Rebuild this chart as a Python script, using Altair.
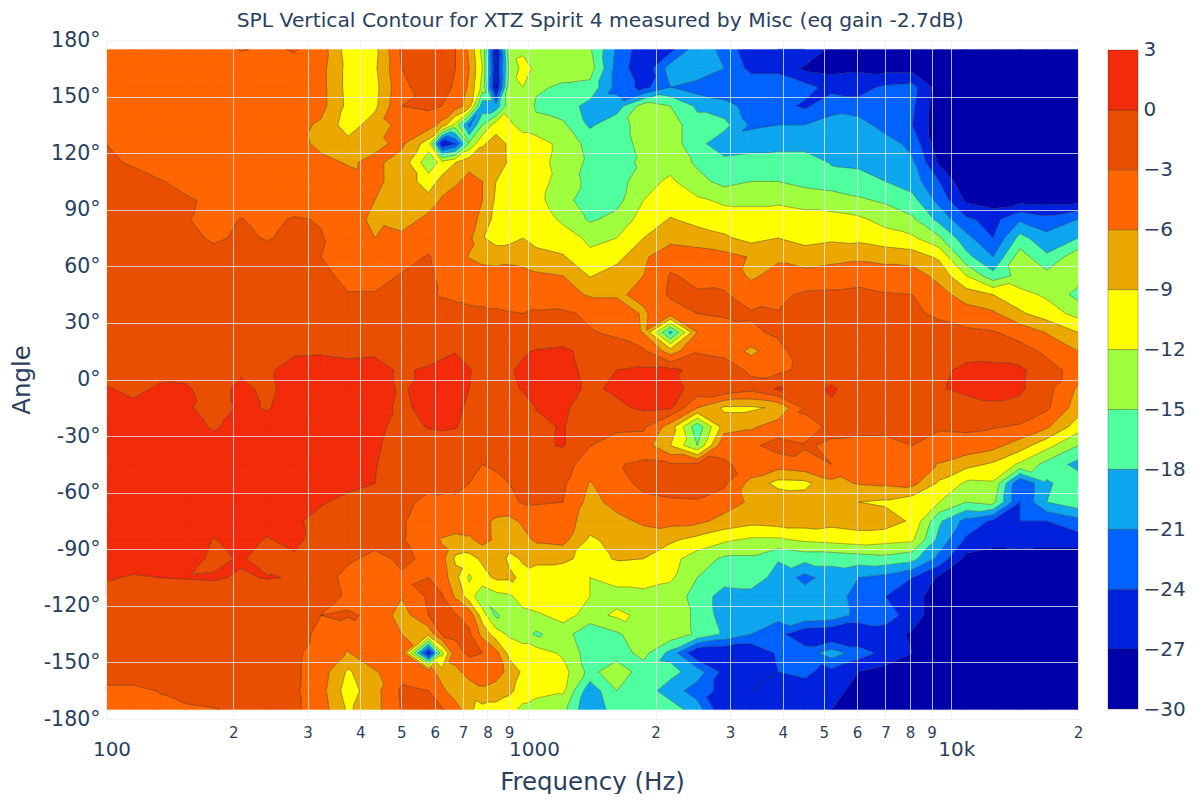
import math
import altair as alt
import pandas as pd

freq = [100,116,134,155,180,209,241,279,323,374,433,501,580,624,672,724,778,838,901,970,1043,
        1207,1398,1618,1873,2169,2511,2907,3366,3897,4512,5224,6048,7002,8107,9386,10867,12582,14567,16865,20000]
angles = list(range(175, -176, -10))

a175 = [-5,-5,-5,-5,-4.5,-2.8,-3.5,-2.8,-4.5,-10.5,-9.8,-2.5, -0.5,-1.5,-3,-6.5,-13,-28,-13,-12.5,-13, -13,-14.5,-21.5,-26,-25,-19,-22,-26,-24,-24,-28,-30,-30,-30,-30,-30,-30,-30,-30,-30]
a165 = [-5,-5,-5,-5,-5,-5,-5,-3.8,-5,-10,-9.5,-3, -1.5,-2,-3,-6,-12,-27,-14.5,-11,-12.5, -13.5,-13.5,-22,-26.5,-19.5,-18.5,-21,-25,-25,-27.5,-28,-27.5,-28,-28,-29,-30,-30,-30,-30,-30]
a155 = [-5,-5,-5,-5,-5,-5,-5,-4.5,-5,-10,-10,-3.5, -2,-2.5,-3.2,-6.5,-13,-28,-13,-12,-14.5, -15.5,-16,-22,-25,-21,-22.5,-23,-21.5,-21.5,-23,-25,-25,-23.5,-23,-28.5,-30,-30,-30,-30,-30]
a145 = [-5,-5,-5,-5,-5,-5,-5,-5,-5,-9.8,-9.7,-3, -2.5,-3,-4.5,-7.5,-20,-20,-13,-12.2,-15.5, -16.5,-19,-19.5,-13.5,-15,-18.5,-20,-22,-23,-24.5,-22,-23,-24,-23.5,-29,-30,-30,-30,-30,-30]
a135 = [-5,-5,-5,-5,-5,-5,-5,-5,-6.5,-10.5,-7.5,-5, -4.5,-7,-13,-22,-15,-10.5,-11.5,-13,-14, -14.5,-18.5,-16,-14,-13.5,-17,-17,-21.5,-21,-21,-20,-19.5,-22.5,-24,-29,-30,-30,-30,-30,-30]
a125 = [-3,-4,-4.5,-4.5,-4.5,-4.5,-4.5,-4.5,-7,-8,-6.5,-5.5, -10.5,-27,-24,-14.5,-9.5,-7.5,-9.5,-10.5,-10.5, -13,-16,-16.5,-14,-13.5,-17,-20,-19.5,-19.5,-19.5,-19,-19,-19.5,-22,-29,-30,-30,-30,-30,-30]
a115 = [-2.5,-3.3,-4.5,-4.5,-4.5,-4.5,-4.5,-4.5,-5,-6.3,-5.5,-7, -14,-11,-9,-7,-6.5,-7,-9.5,-10.5,-10.5, -13.5,-15.5,-16,-14.5,-13,-15.5,-17,-16.5,-16,-16,-18.3,-18.5,-19.5,-20.5,-27.5,-30,-30,-30,-30,-30]
a105 = [-1.5,-2,-2.8,-3.8,-4.5,-4.5,-4.5,-4.5,-4.5,-4.5,-5.5,-7, -10.5,-8,-6.5,-5,-6,-9,-10,-10.5,-11, -13,-16,-16.5,-13,-11.5,-14,-16,-15,-15,-16,-16.5,-17,-18,-19.5,-24,-29.5,-30,-30,-30,-30]
a95 = [-1.5,-2,-2.5,-2.7,-3.5,-4.5,-5,-5,-5,-5,-6,-7.5, -8,-5.5,-4.5,-4,-6,-9.5,-10.5,-10.5,-11.5, -13,-18,-16,-12,-10.5,-11.5,-12.5,-12.5,-12.5,-13,-13.5,-14.5,-15.5,-17,-22,-27.5,-28.5,-28,-28,-28]
a85 = [-1.5,-2,-2,-2.8,-4,-2.9,-3.8,-2.7,-3.2,-5,-6.5,-7.8, -5,-4.5,-4.5,-4.5,-7,-10,-10.3,-10.5,-10.5, -12.5,-15.5,-14,-10.8,-8.8,-10,-10.7,-11,-10.5,-11,-11,-11.5,-13,-14.5,-19,-23.5,-25,-21.5,-23,-21]
a75 = [-2,-2,-2,-2,-3.5,-2.5,-3.2,-2.3,-2.8,-4.5,-6,-5, -3.5,-4,-4.5,-5.3,-8.8,-10,-10,-9,-10, -10.8,-12.5,-12,-9,-7,-7.5,-8.5,-10,-9,-10,-9.5,-9.8,-10.8,-11.5,-14.5,-20,-24,-17,-20,-18]
a65 = [-1.8,-1.8,-1.8,-1.8,-1.8,-1.8,-1.8,-1.8,-3,-4,-4.2,-3.5, -2.9,-3.5,-4.5,-6.2,-7.2,-7.5,-7,-7.5,-8, -8.7,-11.5,-10,-6.5,-4,-4.5,-5,-6.2,-6.5,-7.5,-7,-6.5,-7,-7.5,-9.5,-17,-21,-13.5,-17.5,-13]
a55 = [-1.5,-1.5,-1.5,-1.5,-1.5,-1.5,-1.5,-1.5,-2.5,-3.5,-3.5,-2.9, -2.5,-3.5,-4,-4.5,-4.3,-4.5,-4.5,-4.8,-5.5, -6,-9.2,-7.5,-6,-2.8,-3.5,-4,-6.5,-5,-5,-4.5,-4.5,-4.5,-4.5,-7,-12,-17,-14,-14,-13.5]
a45 = [-1.8,-1.8,-1.8,-1.8,-1.8,-1.8,-1.8,-1.8,-2.2,-2.9,-2.9,-2.5, -2.7,-3.2,-3.6,-4,-4,-3.8,-3.8,-4,-4.5, -5,-6.3,-6.3,-5.5,-2.5,-2.8,-2.7,-4.5,-3.5,-2.6,-2.5,-2,-2.8,-3,-4.8,-7.5,-9,-11,-12.5,-16]
a35 = [-1.4,-1.4,-1.4,-1.4,-1.4,-1.4,-1.4,-1.4,-1.4,-1.5,-1.5,-1.6, -2.5,-2,-2,-2.2,-2.4,-2.7,-2.9,-3,-2.7, -2.5,-3.5,-4.5,-6.3,-4.5,-3,-2.6,-2.7,-2.9,-2.2,-2,-1.5,-2,-2.5,-3.5,-4.5,-5.5,-8.5,-10.5,-13]
a25 = [-1.3,-1.3,-1.3,-1.3,-1.3,-1.3,-1.3,-1.3,-1,-1,-1,-1.3, -1.8,-1.5,-1.5,-1.7,-1.8,-1.9,-2,-2,-1.9, -1.8,-2.8,-3.5,-6.2,-19,-6,-4.5,-3.5,-2.5,-2,-1.8,-1.7,-1.7,-1.8,-2,-2.5,-2.8,-4,-6.2,-9]
a15 = [-1.5,-1.4,-1.4,-1.4,-1.4,-1.4,-1.5,-0.3,-0.2,-0.4,-0.3,-0.8, -1,-0.6,-0.1,-0.7,-1,-1.2,-1,-0.3,0.2, 0.6,-1,-1.8,-2.4,-7.5,-3.3,-3.8,-6.8,-4,-1.2,-1.6,-1.5,-1.5,-1.5,-1.2,-0.8,-1,-2,-3.5,-6]
a5 = [-1,-0.8,-0.7,-0.5,-0.2,-0.3,-0.3,0.8,0.8,0.6,0.7,-0.3, 0.3,0.8,0.8,0.1,-0.5,-1,-0.3,0.5,0.8, 1,-0.8,0,0.4,0.4,-0.5,-1.5,-3.5,-3.8,-2.2,-1.5,-1.3,-1.3,-1.3,-0.5,0.5,0.7,0.6,-2,-4]
am5 = [0.2,-0.5,0.3,0.2,-0.8,0.5,-0.5,1,1,1,1,-0.3, 1,1,1,0,-0.8,-1.2,-1,0.3,1, 1,-0.5,0.5,1,1,-1,-0.7,-2,0.3,-1,0.4,-1.5,-1.5,-1.7,-0.2,0.5,0.5,0.5,-2,-6.5]
am15 = [0.5,0.5,0.5,0.5,-1.5,0.5,-0.2,1,1,1,1,-0.5, 0.8,0.8,0.6,-0.5,-1.3,-1.6,-2,-1.8,0.1, 0.5,-1.5,-0.6,0.5,0.2,-6,-9.5,-9.5,-8.5,-2.5,-0.5,-1.5,-1.5,-1.6,-1.5,-1,-0.3,-1,-2.5,-7.5]
am25 = [1,1,1,1,-0.3,1,1,1,1,1,1,-1.2, 0.2,0.4,0.2,-1,-1.5,-2,-2.2,-2.2,-0.6, 0.2,-2.4,-2.3,-2.5,-7.5,-17,-7.5,-6.5,-4.5,-4,-2.5,-2.5,-2.5,-2.6,-2.7,-2.5,-2.8,-3.3,-5.5,-10.5]
am35 = [1,1,1,1,1,1,1,1,1,1,0.5,-1.5, -1.5,-1.5,-1.7,-2,-2.2,-2.4,-2.5,-2,-0.5, 0.2,-2.9,-4.5,-4.5,-9,-15,-3.5,-3.5,-2,-2.8,-3.3,-3.5,-3.5,-3,-4,-4,-5,-7.5,-11,-15]
am45 = [1,1,1,1,1,1,1,1,1,1,0.2,-2, -2.8,-2.7,-2.5,-2.8,-3,-2.7,-2.3,-1.7,-1.5, -1.8,-4.5,-3.2,-2.5,-2.7,-2.6,-2.8,-3.5,-4.5,-3.7,-3,-4.5,-4.5,-4.5,-6.2,-8,-9.5,-12.5,-16,-19]
am55 = [1,1,1,1,1,1,1,1,1,1,0,-2, -2.5,-2.6,-2.7,-3,-3.8,-3.5,-3,-2.6,-2.5, -2.5,-6.2,-4,-2.3,-2,-2,-2.5,-7,-10,-9.8,-6.8,-5.8,-5.5,-5,-9.5,-12.5,-12.3,-24,-18.5,-16]
am65 = [1,1,1,1,1,1,1,1,0.3,-1,-1.2,-2.5, -3.5,-3.3,-3.2,-3.5,-4,-3.8,-3.5,-2.8,-2.8, -3,-7,-5,-3.7,-3.3,-3.2,-4.5,-6.5,-6.5,-7.5,-8,-9,-9.5,-11,-12,-15,-14,-24,-18,-16]
am75 = [1,1,1,1,1,1,1,0.5,-1,-1.5,-1.5,-2.8, -4,-3.8,-4,-4.5,-5.2,-6.5,-6.8,-5.5,-4.2, -4.5,-7.5,-6.8,-5.5,-5,-5.2,-7,-8,-7.5,-7.5,-8,-7.5,-7.5,-9.5,-17.5,-22,-24.5,-24,-24,-22]
am85 = [1,1,1,1,-0.1,0.8,-0.2,0.8,-1.5,-2,-2,-2.8, -4.5,-6.3,-7,-6.5,-5,-6.5,-8,-7,-5.5, -5,-9.5,-8,-7.5,-8.5,-10,-11.5,-12.5,-12.5,-11.5,-11,-10.5,-11,-11.5,-19,-24.5,-25.5,-25,-25.5,-25.5]
am95 = [1,1,1,1,-0.5,0.2,-0.8,-0.5,-2,-2.5,-3.8,-2.5, -3.5,-5,-9.5,-10,-8.5,-7.5,-9.5,-8.8,-8.5, -8.5,-9.8,-8.8,-9,-11,-13.5,-15.5,-15.5,-17.8,-17,-17,-16.5,-16,-17,-22,-28,-29,-29,-29,-29]
am105 = [0.2,-0.2,0,0.1,0.2,-0.2,0.1,-0.1,-1.5,-4,-4,-3.3, -3,-4.5,-8,-12.5,-10,-8.5,-8.5,-9.5,-10, -10.5,-12,-11,-10.5,-11.5,-15,-16.5,-16.5,-19,-22,-19.5,-21,-22,-24,-27.5,-30,-30,-30,-30,-30]
am115 = [-1.5,-1,-1,-1,-1,-1,-1,-1,-1.5,-3.5,-4,-5.8, -2.5,-2.7,-6.5,-10.5,-14.5,-13,-12.5,-10.5,-10, -10.5,-12,-13,-13,-13.5,-16,-19.5,-19,-19.5,-19.5,-19,-22.5,-24,-25.5,-29,-30,-30,-30,-30,-30]
am125 = [-1.8,-1.8,-1.8,-1.8,-1.8,-1.8,-1.8,-2.5,-3,-2.8,-3.3,-7.5, -3,-2.5,-2.8,-4,-10.5,-15.5,-13.5,-13,-12.5, -11,-13,-11.5,-12.5,-13.5,-15.5,-19.5,-20,-20,-18.5,-19,-22,-22.5,-25.5,-29,-30,-30,-30,-30,-30]
am135 = [-1.8,-1.8,-1.8,-1.8,-1.8,-1.8,-1.8,-2.2,-3.5,-4.5,-3.5,-6, -8,-2.8,-2.5,-2.5,-7,-10.5,-12.5,-13.5,-15.5, -13.5,-17.5,-15.5,-13,-13,-15.5,-18.5,-21,-23,-26.5,-27,-27,-25.5,-27.5,-30,-30,-30,-30,-30,-30]
am145 = [-1.8,-1.8,-1.8,-1.8,-1.8,-1.8,-1.8,-2.3,-4.5,-6.2,-3.5,-4.5, -27,-13,-4,-2.5,-3,-5,-10,-10.5,-10.5, -12.5,-16.5,-16.5,-14,-19,-27,-27,-27,-23.5,-22.5,-19.5,-22.5,-25,-27,-30,-30,-30,-30,-30,-30]
am155 = [-1.8,-1.8,-1.8,-1.8,-1.8,-1.8,-1.8,-2.5,-4.5,-9.5,-6.3,-4, -4,-8,-7,-4.5,-4.5,-4.5,-7,-9.5,-10, -10.8,-16,-13,-16.5,-17,-19.5,-25,-27,-24,-23.5,-25,-27,-28,-28.5,-30,-30,-30,-30,-30,-30]
am165 = [-3.5,-3.5,-2.9,-2.3,-2,-2,-2,-2.5,-5,-10.5,-7,-2.5, -3,-5,-8.5,-8,-6.5,-7.5,-8.5,-10,-10, -11.5,-20,-15,-16.5,-19.5,-22.5,-25,-24,-25,-25,-26,-28,-28,-28.5,-30,-30,-30,-30,-30,-30]
am175 = [-4,-4,-3.5,-3.3,-3.1,-2.6,-2.5,-2.5,-4.5,-9.5,-7,-2.8, -2.5,-2.7,-4,-8.5,-10,-10,-10.5,-13,-15, -14,-21,-16,-15.5,-16.5,-19.5,-27,-26,-27,-26,-27,-28,-29,-29,-30,-30,-30,-30,-30,-30]

spl = [a175,a165,a155,a145,a135,a125,a115,a105,a95,a85,a75,a65,a55,a45,a35,a25,a15,a5,
       am5,am15,am25,am35,am45,am55,am65,am75,am85,am95,am105,am115,am125,am135,am145,am155,am165,am175]
for row in spl:
    assert len(row) == len(freq), (len(row), row[:3])

band_low = [-30,-27,-24,-21,-18,-15,-12,-9,-6,-3,0]
band_colors = ["#0000AA","#0022DD","#0062FF","#0EA6EE","#4FFF9F","#9FFF3F","#FFFF00","#EAA800","#FF6600","#E85000","#F22C0A"]
levels = band_low[1:]
ink = "#2a3f5f"


def clip(poly, level, keep_above):
    out = []
    for i, p in enumerate(poly):
        q = poly[(i + 1) % len(poly)]
        pin = p[2] >= level if keep_above else p[2] <= level
        qin = q[2] >= level if keep_above else q[2] <= level
        if pin:
            out.append(p)
        if pin != qin:
            t = (level - p[2]) / (q[2] - p[2])
            out.append((p[0] + t * (q[0] - p[0]), p[1] + t * (q[1] - p[1]), level))
    return out


lx = [math.log10(f) for f in freq]
triangles = []
for r in range(len(angles) - 1):
    for c in range(len(freq) - 1):
        a = (lx[c], angles[r], spl[r][c])
        b = (lx[c + 1], angles[r], spl[r][c + 1])
        d = (lx[c + 1], angles[r + 1], spl[r + 1][c + 1])
        e = (lx[c], angles[r + 1], spl[r + 1][c])
        if abs(a[2] - d[2]) <= abs(b[2] - e[2]):
            triangles += [[a, b, d], [a, d, e]]
        else:
            triangles += [[a, b, e], [b, d, e]]

fill_rows = []
n = 0
for k, low in enumerate(band_low):
    for tri in triangles:
        poly = tri
        if k > 0:
            poly = clip(poly, low, True)
        if poly and k < len(band_low) - 1:
            poly = clip(poly, low + 3, False)
        if len(poly) < 3:
            continue
        for p in poly:
            n += 1
            fill_rows.append((round(10 ** p[0], 2), round(p[1], 2), k, n))
        n += 1
        fill_rows.append((None, None, k, n))
fills = pd.DataFrame(fill_rows, columns=["f", "a", "band", "i"])

iso_rows = []
n = 0
for lev in levels:
    for tri in triangles:
        pts = []
        for i in range(3):
            p, q = tri[i], tri[(i + 1) % 3]
            if (p[2] < lev) != (q[2] < lev):
                t = (lev - p[2]) / (q[2] - p[2])
                pts.append((p[0] + t * (q[0] - p[0]), p[1] + t * (q[1] - p[1])))
        if len(pts) == 2:
            for p in pts:
                n += 1
                iso_rows.append((round(10 ** p[0], 2), round(p[1], 2), n))
            n += 1
            iso_rows.append((None, None, n))
isos = pd.DataFrame(iso_rows, columns=["f", "a", "i"])

x_scale = alt.Scale(type="log", domain=[100, 20000], nice=False)
y_scale = alt.Scale(domain=[-180, 180], nice=False)
band_scale = alt.Scale(domain=list(range(11)), range=band_colors)

x_ticks = sorted([m * d for d in (100, 1000) for m in range(1, 10)] + [10000, 20000])

x_axis = alt.Axis(values=x_ticks, grid=True, gridColor="#ebf0f8", gridOpacity=0.75, gridWidth=1, zindex=1,
                  ticks=False, domainColor="#ebf0f8", labelFontSize=15, labelColor=ink, labelPadding=6,
                  labelOverlap=False, labelBound=False, labelFlush=False, labelFont="DejaVu Sans",
                  labelExpr="indexof([100,1000,10000],datum.value)>=0 ? '' : format(round(datum.value/pow(10,floor(log(datum.value*1.0001)/LN10))),'d')",
                  title="Frequency (Hz)", titleFontSize=24.5, titleFontWeight="normal", titleColor=ink,
                  titleFont="DejaVu Sans", titlePadding=30)
y_axis = alt.Axis(values=list(range(-180, 181, 30)), grid=True, gridColor="#ebf0f8", gridOpacity=0.75, gridWidth=1,
                  zindex=1, ticks=False, domainColor="#ebf0f8", labelFontSize=20.5, labelColor=ink, labelPadding=6,
                  labelOverlap=False, labelBound=False, labelFlush=False, labelFont="DejaVu Sans",
                  labelExpr="datum.value + '°'", title="Angle", titleFontSize=24.5, titleFontWeight="normal",
                  titleColor=ink, titleFont="DejaVu Sans", titlePadding=9)

band_layer = alt.Chart(fills).mark_line(filled=True, strokeWidth=0.4, interpolate="linear").encode(
    x=alt.X("f:Q", scale=x_scale, axis=x_axis),
    y=alt.Y("a:Q", scale=y_scale, axis=y_axis),
    fill=alt.Fill("band:O", scale=band_scale, legend=None),
    stroke=alt.Stroke("band:O", scale=band_scale, legend=None),
    order=alt.Order("i:Q"),
)
iso_layer = alt.Chart(isos).mark_line(color="#1a1a1a", strokeWidth=0.6, strokeOpacity=0.6).encode(
    x=alt.X("f:Q", scale=x_scale, axis=x_axis),
    y=alt.Y("a:Q", scale=y_scale, axis=y_axis),
    order=alt.Order("i:Q"),
)

decade_freq = [100, 1000, 10000]
decade_text = ["100", "1000", "10k"]
decade_layer = alt.Chart(pd.DataFrame({"f": decade_freq, "t": decade_text})).mark_text(
    fontSize=20, color=ink, font="DejaVu Sans", dx=6, baseline="middle", clip=False
).encode(
    x=alt.X("f:Q", scale=x_scale, axis=x_axis),
    y=alt.value(679 + 31),
    text="t:N",
)

main = alt.layer(band_layer, iso_layer, decade_layer).properties(width=972, height=679)

bar = pd.DataFrame({"lo": band_low, "hi": [v + 3 for v in band_low], "band": list(range(11))})
colorbar = alt.Chart(bar).mark_rect(stroke="#222222", strokeWidth=0.5, strokeOpacity=0.6).encode(
    x=alt.value(0),
    x2=alt.value(30),
    y=alt.Y("lo:Q", scale=alt.Scale(domain=[-30.5, 3.5], nice=False),
            axis=alt.Axis(orient="right", values=list(range(-30, 4, 3)), grid=False, domain=False, ticks=False,
                          labelFontSize=20, labelColor=ink, labelPadding=5, labelFont="DejaVu Sans",
                          labelOverlap=False, labelBound=False, labelFlush=False,
                          labelExpr="datum.value < 0 ? '\u2212' + abs(datum.value) : '' + datum.value", title=None)),
    y2="hi:Q",
    color=alt.Color("band:O", scale=band_scale, legend=None),
).properties(width=30, height=679)

chart = alt.hconcat(main, colorbar, spacing=24).resolve_scale(color="independent", y="independent").properties(
    title=alt.TitleParams("SPL Vertical Contour for XTZ Spirit 4 measured by Misc (eq gain -2.7dB)", fontSize=20.3,
                          fontWeight="normal", color=ink, font="DejaVu Sans", anchor="middle", offset=-1, dx=3),
    background="white",
    padding={"left": 1, "right": 0, "top": 2, "bottom": 0},
).configure_view(stroke=None)

chart.save("out.html", embed_options={"renderer": "svg", "actions": False})
